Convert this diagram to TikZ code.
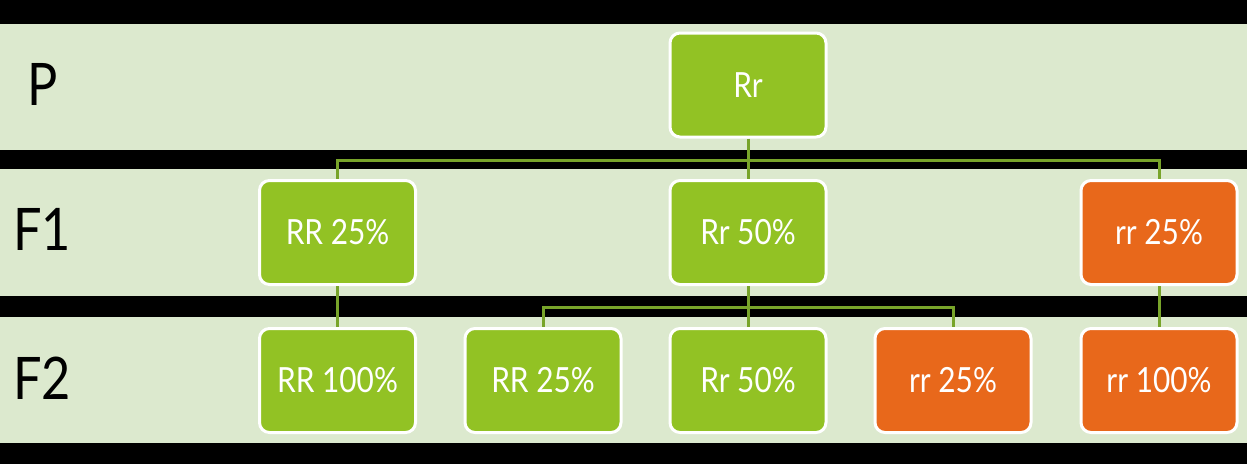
\documentclass[tikz,border=0pt]{standalone}
\usepackage{fontspec}
\setmainfont{Lato}[FakeStretch=0.86]
\definecolor{band}{HTML}{DCE9CE}
\definecolor{leaf}{HTML}{92C224}
\definecolor{rust}{HTML}{E8681B}
\definecolor{stem}{HTML}{78A42A}
\tikzset{
  geno/.style={draw=white, line width=2.25pt, rounded corners=7.5pt, fill=leaf,
    minimum width=117pt, minimum height=78pt, text=white, font=\fontsize{26}{30}\selectfont},
  reces/.style={geno, fill=rust},
  gen/.style={anchor=west, inner sep=0pt, font=\fontsize{44}{50}\selectfont},
  link/.style={stem, line width=2.25pt}
}
\begin{document}
\begin{tikzpicture}[x=0.75pt,y=-0.75pt]
\fill[black] (0,0) rectangle (1247,464);
\fill[band] (0,24) rectangle (1247,150);
\fill[band] (0,169) rectangle (1247,296);
\fill[band] (0,317) rectangle (1247,443);
\node[gen] (lp) at (27,84) {P};
\node[gen] (lf1) at (13,229) {F1};
\node[gen] (lf2) at (13,378) {F2};
% parent
\node[geno] (p) at (748,85) {Rr};
% first generation
\node[geno] (f1RR) at (337.5,232.5) {RR 25\%};
\node[geno] (f1Rr) at (748,232.5) {Rr 50\%};
\node[reces] (f1rr) at (1159,232.5) {rr 25\%};
% second generation
\node[geno] (f2RRa) at (337.5,380.5) {RR 100\%};
\node[geno] (f2RRb) at (543,380.5) {RR 25\%};
\node[geno] (f2Rr) at (748,380.5) {Rr 50\%};
\node[reces] (f2rra) at (953,380.5) {rr 25\%};
\node[reces] (f2rrb) at (1159,380.5) {rr 100\%};
\coordinate (j1) at (748,160);
\coordinate (j2) at (748,307);
\draw[link] (p.south) -- (j1) -| (f1RR.north);
\draw[link] (j1) -- (f1Rr.north);
\draw[link] (j1) -| (f1rr.north);
\draw[link] (f1Rr.south) -- (j2) -| (f2RRb.north);
\draw[link] (j2) -- (f2Rr.north);
\draw[link] (j2) -| (f2rra.north);
\draw[link] (f1RR) -- (f2RRa);
\draw[link] (f1rr) -- (f2rrb);
\end{tikzpicture}
\end{document}
